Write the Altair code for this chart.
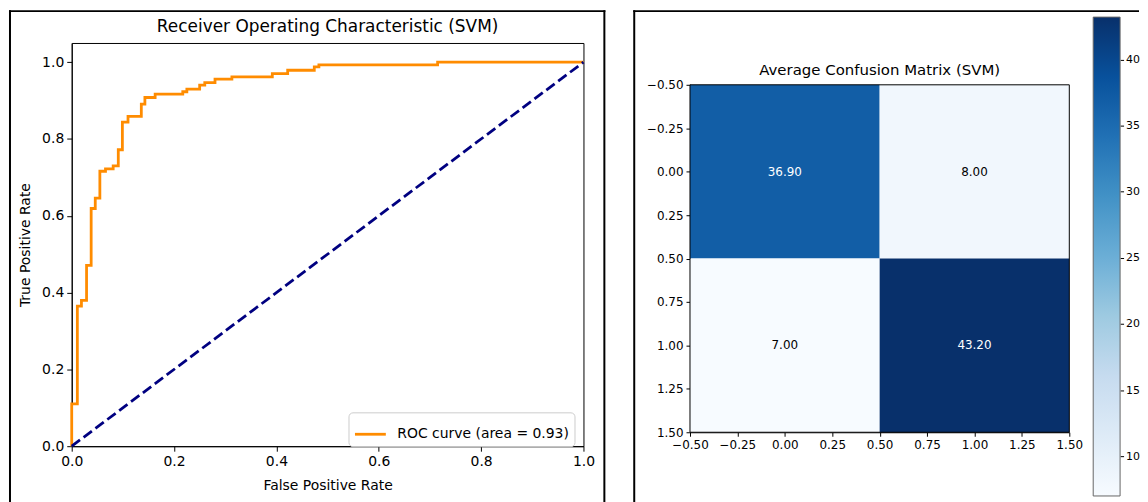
import altair as alt
import pandas as pd

# ---------------- data ----------------
roc_title = "Receiver Operating Characteristic (SVM)"
cm_title = "Average Confusion Matrix (SVM)"
roc_label = "ROC curve (area = 0.93)"
fpr = [0.0, 0.0, 0.011, 0.019, 0.029, 0.038, 0.046, 0.055, 0.066, 0.081, 0.091, 0.099,
       0.110, 0.136, 0.143, 0.163, 0.217, 0.225, 0.250, 0.260, 0.280, 0.313, 0.392,
       0.422, 0.474, 0.483, 0.715, 1.0]
tpr = [0.0, 0.110, 0.365, 0.380, 0.471, 0.619, 0.646, 0.716, 0.722, 0.730, 0.772, 0.844,
       0.859, 0.891, 0.908, 0.917, 0.923, 0.930, 0.940, 0.947, 0.956, 0.962, 0.970,
       0.979, 0.988, 0.993, 1.0, 1.0]
diag_x = [0.0, 1.0]
diag_y = [0.0, 1.0]

cm_rows = [0, 0, 1, 1]
cm_cols = [0, 1, 0, 1]
cm_vals = [36.9, 8.0, 7.0, 43.2]

roc_ticks = [0.0, 0.2, 0.4, 0.6, 0.8, 1.0]
cm_ticks = [-0.5, -0.25, 0.0, 0.25, 0.5, 0.75, 1.0, 1.25, 1.5]
cbar_ticks = [10, 15, 20, 25, 30, 35, 40]

blues = ["#f7fbff", "#deebf7", "#c6dbef", "#9ecae1", "#6baed6",
         "#4292c6", "#2171b5", "#08519c", "#08306b"]

FONT = "DejaVu Sans"

roc_df = pd.DataFrame({"fpr": fpr, "tpr": tpr, "series": [roc_label] * len(fpr)})
diag_df = pd.DataFrame({"fpr": diag_x, "tpr": diag_y})
cm_df = pd.DataFrame({"row": cm_rows, "col": cm_cols, "value": cm_vals})
vmin, vmax = min(cm_vals), max(cm_vals)
thresh = vmax / 2.0
dom9 = [vmin + i * (vmax - vmin) / 8 for i in range(9)]
one = pd.DataFrame({"k": [0]})


def frame_rect(x, x2, y, y2):
    return alt.Chart(one).mark_rect(color="black", strokeWidth=0).encode(
        x=alt.value(x), x2=alt.value(x2), y=alt.value(y), y2=alt.value(y2))


# ---------------- left: ROC ----------------
xs = alt.Scale(domain=[0, 1], nice=False, zero=False)
ys = alt.Scale(domain=[0, 1.05], nice=False, zero=False)

xaxis = alt.Axis(values=roc_ticks, format=".1f", title="False Positive Rate",
                 labelFontSize=14, titleFontSize=14, titleFontWeight="normal",
                 tickSize=5, tickColor="black", domainColor="black", labelColor="black",
                 titleColor="black", labelPadding=3, titlePadding=10, labelFlush=False,
                 grid=False)
yaxis = alt.Axis(values=roc_ticks, format=".1f", title="True Positive Rate",
                 labelFontSize=14, titleFontSize=14, titleFontWeight="normal",
                 tickSize=5, tickColor="black", domainColor="black", labelColor="black",
                 titleColor="black", labelPadding=3, titlePadding=9, labelFlush=False,
                 grid=False)

roc = alt.Chart(roc_df).mark_line(interpolate="step-after", strokeWidth=2.8).encode(
    x=alt.X("fpr:Q", scale=xs, axis=xaxis),
    y=alt.Y("tpr:Q", scale=ys, axis=yaxis),
    color=alt.Color("series:N",
                    scale=alt.Scale(domain=[roc_label], range=["#ff8c00"]),
                    legend=alt.Legend(title=None, orient="none", legendX=278, legendY=371,
                                      symbolType="stroke", symbolSize=961,
                                      symbolStrokeWidth=2.8, labelFontSize=14,
                                      labelFont=FONT, labelColor="black", padding=5,
                                      fillColor="rgba(255,255,255,0.8)",
                                      strokeColor="#cccccc", cornerRadius=4,
                                      labelOffset=10, labelLimit=0)),
)
diag = alt.Chart(diag_df).mark_line(color="#000080", strokeWidth=2.8,
                                    strokeDash=[10.4, 4.5]).encode(
    x=alt.X("fpr:Q", scale=xs, axis=xaxis),
    y=alt.Y("tpr:Q", scale=ys, axis=yaxis),
)
ltitle = alt.Chart(pd.DataFrame({"t": [roc_title]})).mark_text(
    fontSize=17, font=FONT, color="black", baseline="middle", align="center").encode(
    text="t:N", x=alt.value(257), y=alt.value(-16))

left = alt.layer(
    roc, diag, ltitle,
    frame_rect(-63, -61, -33, 470),
    frame_rect(-63, 536, -33, -31),
    frame_rect(534, 536, -33, 470),
).properties(
    width=514, height=405,
    view=alt.ViewBackground(stroke="black", strokeWidth=1),
)

# ---------------- right: confusion matrix ----------------
hx = alt.Scale(domain=[-0.5, 1.5], nice=False, zero=False)
hy = alt.Scale(domain=[-0.5, 1.5], nice=False, zero=False, range=[42, 391])

hxaxis = alt.Axis(values=cm_ticks, format=".2f", title=None, labelFontSize=12,
                  tickSize=4, tickColor="black", domainColor="black", labelColor="black",
                  labelPadding=3, labelFlush=False, grid=False)
hyaxis = alt.Axis(values=cm_ticks, format=".2f", title=None, labelFontSize=12,
                  tickSize=4, tickColor="black", domainColor="black", labelColor="black",
                  labelPadding=3, labelFlush=False, grid=False, orient="left")

cells = alt.Chart(cm_df).transform_calculate(
    x0="datum.col - 0.5", x1="datum.col + 0.5",
    y0="datum.row - 0.5", y1="datum.row + 0.5",
).mark_rect(strokeWidth=0).encode(
    x=alt.X("x0:Q", scale=hx, axis=hxaxis), x2="x1:Q",
    y=alt.Y("y0:Q", scale=hy, axis=hyaxis), y2="y1:Q",
    color=alt.Color("value:Q", scale=alt.Scale(domain=dom9, range=blues, interpolate="rgb"),
                    legend=None),
)
labels = alt.Chart(cm_df).mark_text(fontSize=12, font=FONT).encode(
    x=alt.X("col:Q", scale=hx, axis=hxaxis),
    y=alt.Y("row:Q", scale=hy, axis=hyaxis),
    text=alt.Text("value:Q", format=".2f"),
    color=alt.condition(f"datum.value > {thresh}", alt.value("white"), alt.value("black")),
)
bdf = pd.DataFrame({"lo": [min(cm_ticks)], "hi": [max(cm_ticks)]})
border = alt.Chart(bdf).mark_rect(fillOpacity=0, stroke="black", strokeWidth=1).encode(
    x=alt.X("lo:Q", scale=hx, axis=hxaxis), x2="hi:Q",
    y=alt.Y("lo:Q", scale=hy, axis=hyaxis), y2="hi:Q",
)
heat = alt.layer(cells, labels, border)

gradient = {
    "gradient": "linear", "x1": 0, "y1": 1, "x2": 0, "y2": 0,
    "stops": [{"offset": i / 8, "color": c} for i, c in enumerate(blues)],
}
cb_df = pd.DataFrame({"lo": [vmin], "hi": [vmax]})
cbar = alt.Chart(cb_df).mark_rect(fill=gradient, stroke="#666666", strokeWidth=1).encode(
    x=alt.value(405), x2=alt.value(432),
    y=alt.Y("lo:Q", scale=alt.Scale(domain=[vmin, vmax], range=[455, -26], nice=False,
                                    zero=False),
            axis=alt.Axis(orient="right", offset=51, values=cbar_ticks, tickSize=3.5,
                          tickColor="black", domain=False, grid=False, labelFontSize=11,
                          labelColor="black", labelPadding=2, title=None)),
    y2="hi:Q",
)
rtitle = alt.Chart(pd.DataFrame({"t": [cm_title]})).mark_text(
    fontSize=15, font=FONT, color="black", baseline="middle", align="center").encode(
    text="t:N", x=alt.value(190.5), y=alt.value(27))

right = alt.layer(
    heat, cbar, rtitle,
    frame_rect(-57, -55, -33, 470),
    frame_rect(-57, 451, -33, -31),
).resolve_scale(y="independent").properties(width=381, height=391)

chart = alt.hconcat(left, right, spacing=27).resolve_scale(
    color="independent"
).properties(padding=0).configure(font=FONT).configure_view(stroke=None)

chart.save("out.html", embed_options={"renderer": "svg", "actions": False})
